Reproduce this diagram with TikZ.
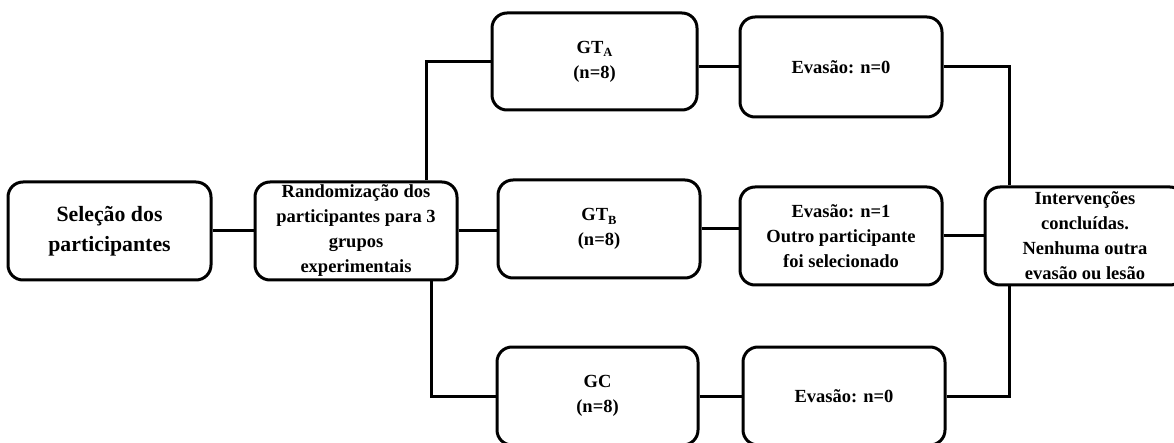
\documentclass[tikz,border=0pt]{standalone}
\usepackage{fontspec}
\setmainfont{Liberation Serif}
\newcommand\grpsub[1]{\raisebox{-0.4ex}{\fontsize{12.5}{12.5}\selectfont #1}}
\begin{document}
\begin{tikzpicture}[x=1pt,y=-1pt,
  stage/.style={draw, line width=3pt, rounded corners=15pt,
    minimum width=202pt, minimum height=98pt, inner sep=0pt,
    align=center, font=\bfseries\fontsize{18.5}{25}\selectfont},
  link/.style={line width=3pt}]
\useasboundingbox (0,0) rectangle (1174,443);

% boxes
\node[stage, minimum width=203pt, font=\bfseries\fontsize{21.8}{30}\selectfont]
  (sel) at (109.5,231) {Seleção dos\\participantes};
\node[stage] (rand) at (356,231)
  {Randomização dos\\participantes para 3\\grupos\\experimentais};
\node[stage, minimum width=205pt, minimum height=97pt] (gta) at (594.5,61.5)
  {GT\grpsub{A}\\(n=8)};
\node[stage, minimum height=100pt] (eva) at (841,67) {Evasão: n=0};
\node[stage] (gtb) at (599,229) {GT\grpsub{B}\\(n=8)};
\node[stage] (evb) at (841,236)
  {Evasão: n=1\\Outro participante\\foi selecionado};
\node[stage, minimum width=201pt] (gc) at (597.5,396) {GC\\(n=8)};
\node[stage] (evc) at (844,396) {Evasão: n=0};
\node[stage, minimum width=200pt] (fin) at (1085,236)
  {Intervenções\\concluídas.\\Nenhuma outra\\evasão ou lesão};

% connectors
\draw[link] (sel) -- (rand);
\draw[link] ([xshift=70pt]rand.north) |- (gta.west);
\draw[link] ([xshift=75pt]rand.south) |- (gc.west);
\draw[link] (rand.east) -- (rand.east -| gtb.west);
\draw[link] (eva.west -| gta.east) -- (eva.west);
\draw[link] (gtb.east) -- (gtb.east -| evb.west);
\draw[link] (gc.east) -- (evc.west);
\draw[link] (evb.east) -- (fin.west);
\draw[link] (eva.east) -| ([xshift=-76pt]fin.north);
\draw[link] (evc.east) -| ([xshift=-76pt]fin.south);
\end{tikzpicture}
\end{document}
